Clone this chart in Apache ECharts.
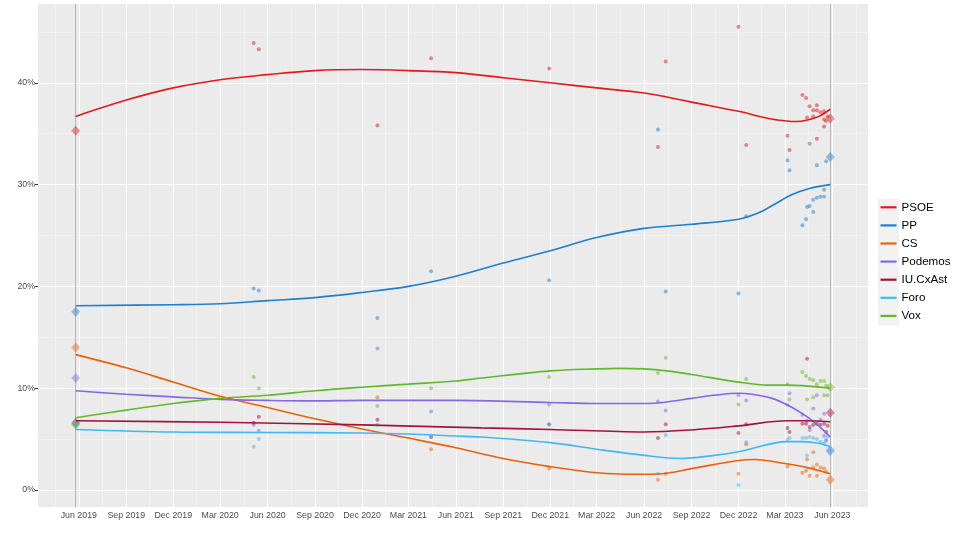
<!DOCTYPE html>
<html><head><meta charset="utf-8">
<script src="https://cdn.jsdelivr.net/npm/echarts@6/dist/echarts.min.js"></script>
<style>html,body{margin:0;padding:0;background:#fff}#c{width:960px;height:534px}</style>
</head><body><div id="c"></div>
<script>
// ---------------- data ----------------
const parties = ['PSOE', 'PP', 'CS', 'Podemos', 'IU.CxAst', 'Foro', 'Vox'];
const partyColors = ['#E31A1C', '#1F7FCB', '#EB6109', '#8468E2', '#A3123A', '#40B8F2', '#62B928'];

const electionDates = ['2019-05-26', '2023-05-28'];
const election2019 = [35.3, 17.5, 14.0, 11.0, 6.6, 6.5, 6.4];
const election2023 = [36.5, 32.7, 1.0, 3.9, 7.6, 3.8, 10.1];

const xTickDates = ['2019-06-01', '2019-09-01', '2019-12-01', '2020-03-01', '2020-06-01', '2020-09-01',
  '2020-12-01', '2021-03-01', '2021-06-01', '2021-09-01', '2021-12-01', '2022-03-01', '2022-06-01',
  '2022-09-01', '2022-12-01', '2023-03-01', '2023-06-01'];
const xGridBounds = ['2019-03-01', '2023-09-01'];
const yTicks = [0, 10, 20, 30, 40];
const yMinorTicks = [5, 15, 25, 35, 45];

const psoePolls = [['2020-05-05', 43.9], ['2020-05-15', 43.3], ['2020-12-31', 35.8], ['2021-04-14', 42.4],
  ['2021-11-29', 41.4], ['2022-06-28', 33.7], ['2022-07-13', 42.1], ['2022-12-01', 45.5], ['2022-12-16', 33.9],
  ['2023-03-06', 34.8], ['2023-03-10', 33.4], ['2023-04-04', 38.8], ['2023-04-11', 38.5], ['2023-04-13', 36.6],
  ['2023-04-18', 37.7], ['2023-04-25', 37.3], ['2023-04-25', 36.7], ['2023-05-02', 37.8], ['2023-05-02', 34.5],
  ['2023-05-02', 37.3], ['2023-05-09', 37.1], ['2023-05-16', 37.2], ['2023-05-16', 36.4], ['2023-05-16', 35.7],
  ['2023-05-20', 36.25], ['2023-05-23', 36.7]];
const ppPolls = [['2020-05-05', 19.8], ['2020-05-15', 19.6], ['2020-12-31', 16.9], ['2021-04-14', 21.5],
  ['2021-11-29', 20.6], ['2022-06-28', 35.4], ['2022-07-13', 19.5], ['2022-12-01', 19.3], ['2022-12-16', 26.9],
  ['2023-03-06', 32.4], ['2023-03-10', 31.4], ['2023-04-04', 26.0], ['2023-04-11', 26.6], ['2023-04-13', 27.8],
  ['2023-04-18', 27.9], ['2023-04-18', 34.0], ['2023-04-25', 28.5], ['2023-04-25', 27.3], ['2023-05-02', 28.7],
  ['2023-05-02', 31.9], ['2023-05-09', 28.8], ['2023-05-16', 28.8], ['2023-05-16', 29.5], ['2023-05-20', 32.3]];
const csPolls = [['2020-12-31', 9.1], ['2021-04-14', 4.0], ['2021-11-29', 2.1], ['2022-06-28', 1.0],
  ['2022-07-13', 1.6], ['2022-12-01', 1.6], ['2022-12-16', 4.5], ['2023-03-06', 2.3], ['2023-04-04', 1.7],
  ['2023-04-11', 1.9], ['2023-04-13', 3.0], ['2023-04-18', 1.4], ['2023-04-25', 3.7], ['2023-04-25', 2.2],
  ['2023-05-02', 1.4], ['2023-05-02', 2.5], ['2023-05-09', 2.2], ['2023-05-16', 2.1], ['2023-05-20', 1.8]];
const podemosPolls = [['2020-05-05', 6.4], ['2020-05-15', 5.8], ['2020-12-31', 13.9], ['2021-04-14', 7.7],
  ['2021-11-29', 8.4], ['2022-06-28', 8.7], ['2022-07-13', 7.8], ['2022-12-01', 9.3], ['2022-12-16', 8.8],
  ['2023-03-06', 8.35], ['2023-03-10', 9.5], ['2023-04-04', 7.4], ['2023-04-13', 6.8], ['2023-04-18', 5.9],
  ['2023-04-25', 8.0], ['2023-05-02', 9.3], ['2023-05-09', 6.9], ['2023-05-16', 7.5], ['2023-05-16', 5.3],
  ['2023-05-20', 4.9]];
const iuPolls = [['2020-05-05', 6.6], ['2020-05-15', 7.2], ['2020-12-31', 6.9], ['2021-04-14', 5.2],
  ['2021-11-29', 6.45], ['2022-06-28', 5.1], ['2022-07-13', 6.45], ['2022-12-01', 5.6], ['2022-12-16', 6.45],
  ['2023-03-06', 6.1], ['2023-03-10', 5.7], ['2023-04-04', 6.5], ['2023-04-11', 6.5], ['2023-04-13', 12.9],
  ['2023-04-18', 6.2], ['2023-04-25', 6.4], ['2023-05-02', 6.5], ['2023-05-09', 6.4], ['2023-05-16', 6.5],
  ['2023-05-20', 5.7], ['2023-05-23', 6.3]];
const foroPolls = [['2020-05-05', 4.25], ['2020-05-15', 5.0], ['2020-12-31', 6.4], ['2021-04-14', 5.2],
  ['2021-11-29', 6.4], ['2022-06-28', 1.6], ['2022-07-13', 5.4], ['2022-12-01', 0.5], ['2022-12-16', 4.7],
  ['2023-03-06', 4.9], ['2023-03-10', 5.1], ['2023-04-04', 5.1], ['2023-04-11', 5.1], ['2023-04-13', 3.4],
  ['2023-04-18', 5.2], ['2023-04-25', 5.1], ['2023-05-02', 5.0], ['2023-05-09', 4.75], ['2023-05-16', 4.6],
  ['2023-05-20', 4.85], ['2023-05-23', 5.3]];
const voxPolls = [['2020-05-05', 11.1], ['2020-05-15', 10.0], ['2020-12-31', 8.25], ['2021-04-14', 10.0],
  ['2021-11-29', 11.1], ['2022-06-28', 11.5], ['2022-07-13', 13.0], ['2022-12-01', 8.4], ['2022-12-16', 10.9],
  ['2023-03-06', 10.4], ['2023-03-10', 8.9], ['2023-04-04', 11.6], ['2023-04-11', 11.2], ['2023-04-13', 8.9],
  ['2023-04-18', 10.9], ['2023-04-25', 10.8], ['2023-04-25', 9.1], ['2023-05-02', 10.4], ['2023-05-09', 10.7],
  ['2023-05-16', 10.7], ['2023-05-16', 9.3], ['2023-05-20', 10.25], ['2023-05-23', 9.3]];

const psoeTrend = [['2019-05-26', 36.7], ['2019-09-01', 38.3], ['2019-12-01', 39.5], ['2020-03-01', 40.3],
  ['2020-06-01', 40.8], ['2020-09-01', 41.2], ['2020-12-01', 41.3], ['2021-03-01', 41.2], ['2021-06-01', 41.0],
  ['2021-09-01', 40.5], ['2021-12-01', 40.0], ['2022-03-01', 39.5], ['2022-06-01', 39.0], ['2022-07-15', 38.6],
  ['2022-09-01', 38.1], ['2022-12-01', 37.2], ['2023-01-28', 36.5], ['2023-03-05', 36.25], ['2023-03-22', 36.2],
  ['2023-04-14', 36.35], ['2023-05-06', 36.7], ['2023-05-28', 37.4]];
const ppTrend = [['2019-05-26', 18.1], ['2019-12-01', 18.2], ['2020-03-01', 18.3], ['2020-06-01', 18.6],
  ['2020-09-01', 18.9], ['2020-12-01', 19.4], ['2021-03-01', 20.0], ['2021-06-01', 21.0], ['2021-09-01', 22.3],
  ['2021-12-01', 23.5], ['2022-03-01', 24.8], ['2022-06-01', 25.7], ['2022-09-01', 26.1], ['2022-12-01', 26.6],
  ['2023-01-08', 27.2], ['2023-02-10', 28.1], ['2023-03-14', 29.0], ['2023-04-16', 29.6], ['2023-05-28', 30.0]];
const csTrend = [['2019-05-26', 13.3], ['2019-09-01', 12.0], ['2019-12-01', 10.6], ['2020-03-01', 9.2],
  ['2020-06-01', 8.1], ['2020-09-01', 7.0], ['2020-12-01', 6.0], ['2021-03-01', 5.1], ['2021-06-01', 4.15],
  ['2021-09-01', 3.1], ['2021-12-01', 2.3], ['2022-03-01', 1.7], ['2022-06-01', 1.55], ['2022-07-15', 1.65],
  ['2022-09-01', 2.1], ['2022-12-01', 2.9], ['2023-01-02', 3.0], ['2023-03-01', 2.6], ['2023-04-13', 2.2],
  ['2023-05-28', 1.6]];
const podemosTrend = [['2019-05-26', 9.75], ['2019-09-01', 9.4], ['2019-12-01', 9.15], ['2020-03-01', 8.9],
  ['2020-06-01', 8.8], ['2020-09-01', 8.75], ['2020-12-01', 8.8], ['2021-06-01', 8.8], ['2021-12-01', 8.6],
  ['2022-03-01', 8.5], ['2022-06-01', 8.5], ['2022-07-15', 8.65], ['2022-09-01', 9.0], ['2022-10-15', 9.3],
  ['2022-12-01', 9.5], ['2022-12-27', 9.4], ['2023-02-04', 9.0], ['2023-03-06', 8.35], ['2023-04-04', 7.5],
  ['2023-04-30', 6.55], ['2023-05-28', 5.2]];
const iuTrend = [['2019-05-26', 6.8], ['2020-03-01', 6.65], ['2020-12-01', 6.4], ['2021-07-20', 6.1],
  ['2021-12-01', 5.95], ['2022-06-01', 5.7], ['2022-09-01', 5.9], ['2022-12-01', 6.3], ['2023-03-06', 6.8],
  ['2023-04-04', 6.8], ['2023-05-28', 6.7]];
const foroTrend = [['2019-05-26', 5.95], ['2019-12-01', 5.7], ['2020-06-01', 5.65], ['2020-12-01', 5.6],
  ['2021-03-01', 5.5], ['2021-06-01', 5.3], ['2021-07-20', 5.2], ['2021-12-01', 4.65], ['2022-03-01', 4.0],
  ['2022-06-01', 3.4], ['2022-08-10', 3.1], ['2022-10-15', 3.4], ['2022-12-01', 3.75], ['2023-03-06', 4.75],
  ['2023-04-04', 4.75], ['2023-05-05', 4.6], ['2023-05-28', 4.25]];
const voxTrend = [['2019-05-26', 7.1], ['2019-09-01', 7.85], ['2019-12-01', 8.5], ['2020-03-01', 9.0],
  ['2020-06-01', 9.3], ['2020-09-01', 9.75], ['2020-12-01', 10.1], ['2021-03-01', 10.4], ['2021-06-01', 10.7],
  ['2021-07-20', 11.0], ['2021-12-01', 11.7], ['2022-03-01', 11.9], ['2022-04-15', 11.95], ['2022-06-01', 11.9],
  ['2022-07-15', 11.7], ['2022-09-01', 11.35], ['2022-12-01', 10.6], ['2023-01-28', 10.3], ['2023-03-06', 10.3],
  ['2023-04-04', 10.25], ['2023-05-28', 10.0]];

const polls = [psoePolls, ppPolls, csPolls, podemosPolls, iuPolls, foroPolls, voxPolls];
const trends = [psoeTrend, ppTrend, csTrend, podemosTrend, iuTrend, foroTrend, voxTrend];

// ---------------- build ----------------
const ts = s => { const [y, m, d] = s.split('-').map(Number); return Date.UTC(y, m - 1, d); };
const months = ['Jan', 'Feb', 'Mar', 'Apr', 'May', 'Jun', 'Jul', 'Aug', 'Sep', 'Oct', 'Nov', 'Dec'];
const xTicks = xTickDates.map(ts);
const allMajor = [ts(xGridBounds[0])].concat(xTicks, [ts(xGridBounds[1])]);
const xMinor = [];
for (let i = 0; i < allMajor.length - 1; i++) xMinor.push((allMajor[i] + allMajor[i + 1]) / 2);
const e0 = ts(electionDates[0]), e1 = ts(electionDates[1]);
const span = e1 - e0;
const xMin = e0 - 0.05 * span, xMax = e1 + 0.05 * span;

const lineOf = (v, axis, color, width) => ({ [axis]: v, lineStyle: { color, width, type: 'solid' } });
const gridMarks = []
  .concat(yMinorTicks.map(v => lineOf(v, 'yAxis', '#F6F6F6', 0.6)))
  .concat(xMinor.map(v => lineOf(v, 'xAxis', '#F6F6F6', 0.6)))
  .concat(yTicks.map(v => lineOf(v, 'yAxis', '#FFFFFF', 1.1)))
  .concat(xTicks.map(v => lineOf(v, 'xAxis', '#FFFFFF', 1.1)))
  .concat([e0, e1].map(v => lineOf(v, 'xAxis', '#B5B5B5', 1)));

const series = [{
  name: 'grid', type: 'line', data: [], z: 0, silent: true,
  markLine: { silent: true, symbol: ['none', 'none'], label: { show: false }, animation: false,
    emphasis: { disabled: true }, data: gridMarks }
}];

parties.forEach((p, i) => {
  series.push({
    name: p + ' polls', type: 'scatter', z: 5, symbolSize: 4, color: partyColors[i],
    itemStyle: { opacity: 0.5 },
    data: polls[i].map(d => [ts(d[0]), d[1]])
  });
  series.push({
    name: p + ' result', type: 'scatter', z: 5, symbol: 'diamond', symbolSize: [9, 10], color: partyColors[i],
    itemStyle: { opacity: 0.45 },
    data: [[e0, election2019[i]], [e1, election2023[i]]]
  });
});
parties.forEach((p, i) => {
  series.push({
    name: p, type: 'line', z: 6, smooth: 0.35, showSymbol: false, color: partyColors[i],
    lineStyle: { width: 1.6, color: partyColors[i] },
    data: trends[i].map(d => [ts(d[0]), d[1]])
  });
});

const chart = echarts.init(document.getElementById('c'), null, { renderer: 'canvas' });
chart.setOption({
  animation: false,
  backgroundColor: '#FFFFFF',
  textStyle: { fontFamily: 'Liberation Sans, Arial, sans-serif' },
  grid: { left: 38, right: 92, top: 4, bottom: 27, show: true, backgroundColor: '#EBEBEB', borderWidth: 0 },
  xAxis: {
    type: 'value', min: xMin, max: xMax, scale: true,
    axisLine: { show: false },
    splitLine: { show: false }, minorSplitLine: { show: false },
    axisTick: { show: true, customValues: xTicks, length: 3, lineStyle: { color: '#333333', width: 1 } },
    axisLabel: {
      customValues: xTicks, color: '#4D4D4D', fontSize: 8.8, margin: 4, hideOverlap: false,
      formatter: v => { const d = new Date(v); return months[d.getUTCMonth()] + ' ' + d.getUTCFullYear(); }
    }
  },
  yAxis: {
    type: 'value', min: -1.67, max: 47.74,
    axisLine: { show: false },
    splitLine: { show: false },
    axisTick: { show: true, customValues: yTicks, length: 3, lineStyle: { color: '#333333', width: 1 } },
    axisLabel: { customValues: yTicks, color: '#4D4D4D', fontSize: 8.8, margin: 3, formatter: v => v + '%' }
  },
  legend: {
    data: parties, orient: 'vertical', left: 880.5, top: 200.3, icon: 'rect', padding: 0,
    itemWidth: 16, itemHeight: 2.2, itemGap: 4.1,
    textStyle: { fontSize: 11.6, color: '#000000', lineHeight: 14, padding: [0, 0, 0, 0] },
    selectedMode: false
  },
  graphic: [{ type: 'rect', left: 878, top: 198.5, z: -1, silent: true,
    shape: { width: 21, height: 127 }, style: { fill: '#F2F2F2' } }],
  series
});
</script>
</body></html>
